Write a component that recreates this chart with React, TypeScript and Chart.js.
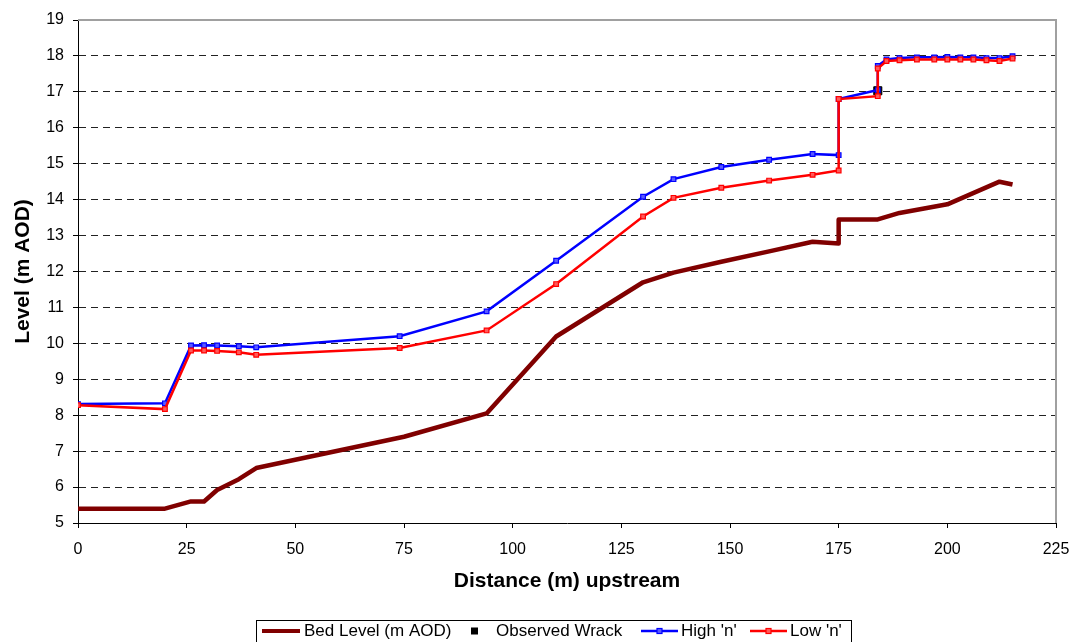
import React, { useEffect, useRef } from 'react';
import { Chart, registerables } from 'chart.js';

Chart.register(...registerables);

const FONT = "'Liberation Sans', Arial, Helvetica, sans-serif";

// Bed level profile
const bedX = [0, 20, 26, 29, 32, 37, 41, 75, 94, 110, 130, 137, 148, 159, 169, 175, 175, 184, 189, 200, 212, 215];
const bedY = [5.4, 5.4, 5.6, 5.6, 5.92, 6.22, 6.53, 7.4, 8.05, 10.19, 11.7, 11.97, 12.27, 12.56, 12.83, 12.78, 13.45, 13.45, 13.63, 13.87, 14.5, 14.42];

// Water level profiles (shared chainages)
const nX = [0, 20, 26, 29, 32, 37, 41, 74, 94, 110, 130, 137, 148, 159, 169, 175, 175, 184, 184, 186, 189, 193, 197, 200, 203, 206, 209, 212, 215];
const highY = [8.31, 8.33, 9.94, 9.95, 9.94, 9.92, 9.89, 10.2, 10.89, 12.3, 14.08, 14.57, 14.91, 15.11, 15.27, 15.24, 16.8, 17.05, 17.72, 17.9, 17.94, 17.96, 17.96, 17.97, 17.96, 17.96, 17.94, 17.94, 17.99];
const lowY = [8.28, 8.17, 9.8, 9.8, 9.79, 9.75, 9.68, 9.87, 10.36, 11.65, 13.53, 14.05, 14.33, 14.53, 14.69, 14.81, 16.8, 16.88, 17.65, 17.86, 17.88, 17.9, 17.9, 17.9, 17.9, 17.9, 17.88, 17.86, 17.93];

// Observed wrack mark
const wrackX = [184];
const wrackY = [17.03];

const seriesNames = ['Bed Level (m AOD)', 'Observed Wrack', "High 'n'", "Low 'n'"];
const xMin = 0, xMax = 225, xStep = 25;
const yMin = 5, yMax = 19, yStep = 1;
const xTitle = 'Distance (m) upstream';
const yTitle = 'Level (m AOD)';

const BED_COLOR = '#800000';
const HIGH_COLOR = '#0000FF';
const LOW_COLOR = '#FF0000';

const pts = (xs: number[], ys: number[]) => xs.map((x, i) => ({ x, y: ys[i] }));

export default function App() {
  const ref = useRef<HTMLCanvasElement>(null);

  useEffect(() => {
    document.body.style.margin = '0';
    const canvas = ref.current;
    if (!canvas) return;

    const framePlugin = {
      id: 'frame',
      beforeDatasetsDraw(chart: any) {
        const { ctx, chartArea: a } = chart;
        ctx.save();
        ctx.strokeStyle = '#a0a0a0';
        ctx.lineWidth = 2;
        ctx.beginPath();
        ctx.moveTo(a.left, a.top);
        ctx.lineTo(a.right, a.top);
        ctx.lineTo(a.right, a.bottom);
        ctx.stroke();
        ctx.restore();
      },
    };

    const legendPlugin = {
      id: 'customLegend',
      afterDraw(chart: any) {
        const ctx = chart.ctx;
        ctx.save();
        ctx.font = `17px ${FONT}`;
        ctx.textBaseline = 'middle';
        ctx.fillStyle = '#000';
        const left = 256;
        const right = 851;
        const top = 620;
        const cy = 631;
        ctx.strokeStyle = '#000';
        ctx.lineWidth = 1;
        ctx.strokeRect(left + 0.5, top + 0.5, right - left, 40);
        // Bed level
        ctx.strokeStyle = BED_COLOR;
        ctx.lineWidth = 4;
        ctx.beginPath();
        ctx.moveTo(262, cy);
        ctx.lineTo(300, cy);
        ctx.stroke();
        ctx.fillStyle = '#000';
        ctx.fillText(seriesNames[0], 304, cy);
        // Wrack
        ctx.fillRect(471, cy - 3.5, 7, 7);
        ctx.fillText(seriesNames[1], 496, cy);
        // High / Low
        const drawLine = (color: string, fill: string, idx: number, x0: number, x1: number, tx: number) => {
          ctx.strokeStyle = color;
          ctx.lineWidth = 2.5;
          ctx.beginPath();
          ctx.moveTo(x0, cy);
          ctx.lineTo(x1, cy);
          ctx.stroke();
          const mx = (x0 + x1) / 2;
          ctx.fillStyle = fill;
          ctx.lineWidth = 1.2;
          ctx.fillRect(mx - 2.5, cy - 2.5, 5, 5);
          ctx.strokeRect(mx - 2.5, cy - 2.5, 5, 5);
          ctx.fillStyle = '#000';
          ctx.fillText(seriesNames[idx], tx, cy);
        };
        drawLine(HIGH_COLOR, 'rgba(90,90,255,1)', 2, 641, 678, 681);
        drawLine(LOW_COLOR, 'rgba(255,90,90,1)', 3, 750, 787, 790);
        ctx.restore();
      },
    };

    const chart = new Chart(canvas, {
      type: 'line',
      data: {
        datasets: [
          {
            label: seriesNames[3],
            data: pts(nX, lowY),
            borderColor: LOW_COLOR,
            backgroundColor: 'rgba(255,90,90,1)',
            borderWidth: 2.5,
            pointStyle: 'rect',
            pointRadius: 3.3,
            pointBorderWidth: 1.2,
            pointBorderColor: LOW_COLOR,
            tension: 0,
            order: 0,
          },
          {
            label: seriesNames[2],
            data: pts(nX, highY),
            borderColor: HIGH_COLOR,
            backgroundColor: 'rgba(90,90,255,1)',
            borderWidth: 2.5,
            pointStyle: 'rect',
            pointRadius: 3.3,
            pointBorderWidth: 1.2,
            pointBorderColor: HIGH_COLOR,
            tension: 0,
            order: 1,
          },
          {
            label: seriesNames[1],
            data: pts(wrackX, wrackY),
            showLine: false,
            borderColor: '#000',
            backgroundColor: '#000',
            pointStyle: 'rect',
            pointRadius: 5.7,
            pointBorderWidth: 1,
            order: 2,
          },
          {
            label: seriesNames[0],
            data: pts(bedX, bedY),
            borderColor: BED_COLOR,
            backgroundColor: BED_COLOR,
            borderWidth: 4.5,
            pointRadius: 0,
            tension: 0,
            borderJoinStyle: 'round',
            order: 3,
          },
        ],
      },
      options: {
        responsive: false,
        animation: false,
        events: [],
        layout: { padding: { left: 0, top: 20, right: 27, bottom: 48 } },
        plugins: {
          legend: { display: false },
          tooltip: { enabled: false },
          title: { display: false },
        },
        scales: {
          x: {
            type: 'linear',
            min: xMin,
            max: xMax,
            afterFit: (s: any) => {
              s.height = 71;
            },
            ticks: {
              stepSize: xStep,
              color: '#000',
              padding: 12,
              font: { family: FONT, size: 16 },
              maxRotation: 0,
            },
            grid: {
              drawOnChartArea: false,
              drawTicks: true,
              tickLength: 5,
              color: '#000',
              tickColor: '#000',
            },
            border: { color: '#000', width: 1 },
            title: {
              display: true,
              text: xTitle,
              color: '#000',
              padding: { top: 0, bottom: 0 },
              font: { family: FONT, size: 21, weight: 'bold' },
            },
          },
          y: {
            type: 'linear',
            min: yMin,
            max: yMax,
            afterFit: (s: any) => {
              s.width = 78;
            },
            ticks: {
              stepSize: yStep,
              color: '#000',
              padding: 9,
              font: { family: FONT, size: 16 },
            },
            grid: {
              drawOnChartArea: true,
              drawTicks: true,
              tickLength: 5,
              color: (c: any) =>
                c.tick && (c.tick.value === yMax || c.tick.value === yMin) ? 'rgba(0,0,0,0)' : '#222',
              tickColor: '#000',
              lineWidth: 1,
            },
            border: { color: '#000', width: 1, dash: [7, 5] },
            title: {
              display: true,
              text: yTitle,
              color: '#000',
              padding: { top: 11, bottom: 0 },
              font: { family: FONT, size: 21, weight: 'bold' },
            },
          },
        },
      },
      plugins: [framePlugin, legendPlugin],
    });

    return () => chart.destroy();
  }, []);

  return (
    <div style={{ width: 1083, height: 642, position: 'relative' }}>
      <canvas ref={ref} width={1083} height={642} style={{ display: 'block' }} />
    </div>
  );
}
